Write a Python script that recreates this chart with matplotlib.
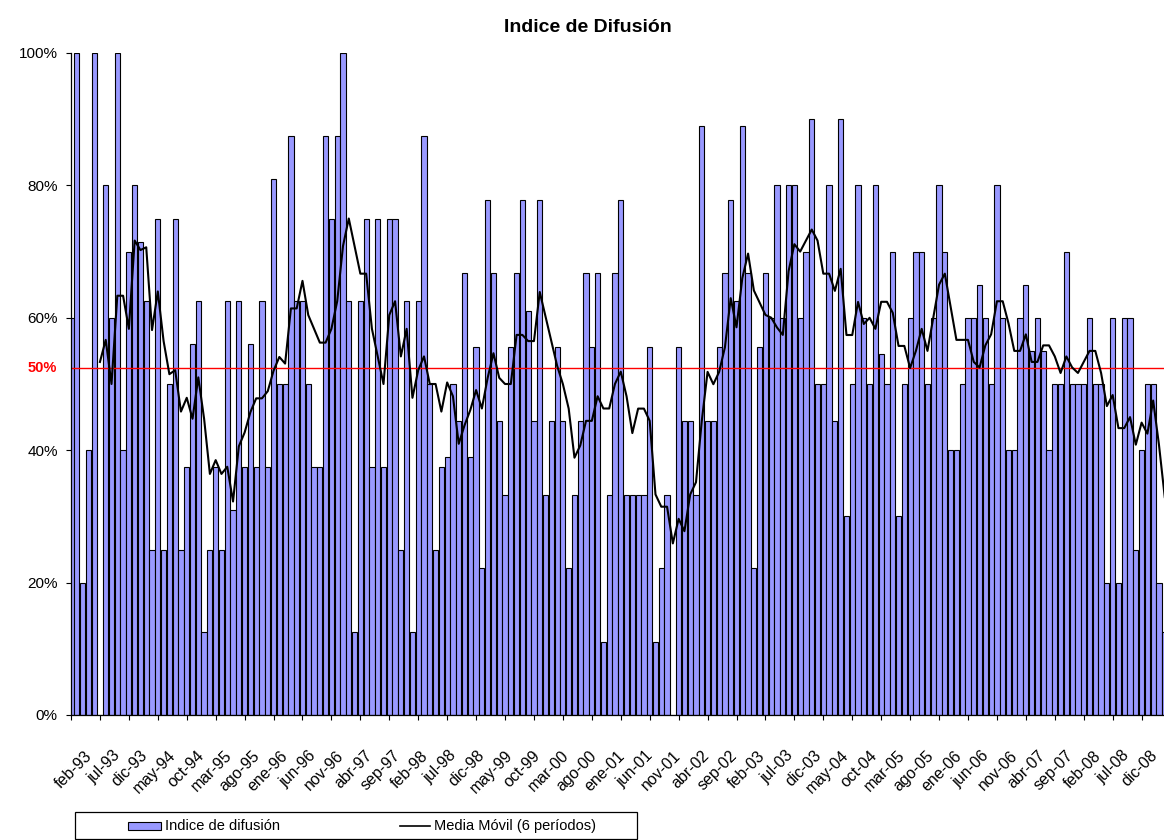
import matplotlib
matplotlib.use("Agg")
import matplotlib.pyplot as plt
from matplotlib.patches import Rectangle
from matplotlib.lines import Line2D
import numpy as np
import pandas as pd

plt.rcParams['font.family'] = ['Liberation Sans', 'DejaVu Sans']

# monthly diffusion index in %, one value per month from feb-93
indice = [
    60, 100, 20, 40, 100, 0, 80, 60, 100, 40,
    70, 80, 71.4, 62.5, 25, 75, 25, 50, 75, 25,
    37.5, 56, 62.5, 12.5, 25, 37.5, 25, 62.5, 31, 62.5,
    37.5, 56, 37.5, 62.5, 37.5, 81, 50, 50, 87.5, 62.5,
    62.5, 50, 37.5, 37.5, 87.5, 75, 87.5, 100, 62.5, 12.5,
    62.5, 75, 37.5, 75, 37.5, 75, 75, 25, 62.5, 12.5,
    62.5, 87.5, 50, 25, 37.5, 38.9, 50, 44.4, 66.7, 38.9,
    55.6, 22.2, 77.8, 66.7, 44.4, 33.3, 55.6, 66.7, 77.8, 61.1,
    44.4, 77.8, 33.3, 44.4, 55.6, 44.4, 22.2, 33.3, 44.4, 66.7,
    55.6, 66.7, 11.1, 33.3, 66.7, 77.8, 33.3, 33.3, 33.3, 33.3,
    55.6, 11.1, 22.2, 33.3, 0, 55.6, 44.4, 44.4, 33.3, 88.9,
    44.4, 44.4, 55.6, 66.7, 77.8, 62.5, 88.9, 66.7, 22.2, 55.6,
    66.7, 60, 80, 60, 80, 80, 60, 70, 90, 50,
    50, 80, 44.4, 90, 30, 50, 80, 60, 50, 80,
    54.5, 50, 70, 30, 50, 60, 70, 70, 50, 60,
    80, 70, 40, 40, 50, 60, 60, 65, 60, 50,
    80, 60, 40, 40, 60, 65, 55, 60, 55, 40,
    50, 50, 70, 50, 50, 50, 60, 50, 50, 20,
    60, 20, 60, 60, 25, 40, 50, 50, 20, 12.5,
]

# one label every 5 months
etiquetas = [
    'feb-93', 'jul-93', 'dic-93', 'may-94', 'oct-94', 'mar-95', 'ago-95', 'ene-96',
    'jun-96', 'nov-96', 'abr-97', 'sep-97', 'feb-98', 'jul-98', 'dic-98', 'may-99',
    'oct-99', 'mar-00', 'ago-00', 'ene-01', 'jun-01', 'nov-01', 'abr-02', 'sep-02',
    'feb-03', 'jul-03', 'dic-03', 'may-04', 'oct-04', 'mar-05', 'ago-05', 'ene-06',
    'jun-06', 'nov-06', 'abr-07', 'sep-07', 'feb-08', 'jul-08', 'dic-08',
]

linea_ref = 52.4   # where the red "50%" line sits on the picture

W, H = 1164, 840
fig = plt.figure(figsize=(W / 100, H / 100), dpi=100)

n_cat = 5 * (len(etiquetas) - 1)
px_per_cat = 5.787
ax_left, ax_top, ax_bottom = 71, 53, 715
ax = fig.add_axes([ax_left / W, 1 - ax_bottom / H,
                   n_cat * px_per_cat / W, (ax_bottom - ax_top) / H])

x = np.arange(len(indice))
ax.bar(x, indice, width=0.9, color='#9999ff', edgecolor='black',
       linewidth=0.8, zorder=1)

ax.axhline(linea_ref, color='red', linewidth=1, zorder=2)

media = pd.Series(indice).rolling(6).mean()
ax.plot(x, media, color='black', linewidth=1.5, zorder=3)

ax.set_xlim(0, n_cat)
ax.set_ylim(0, 100)

ax.set_yticks(range(0, 101, 20))
ax.set_yticklabels([f'{v}%' for v in range(0, 101, 20)])
ax.set_xticks(range(0, n_cat + 1, 5))
ax.set_xticklabels([])

ax.tick_params(axis='y', direction='out', length=3.6, width=0.8, pad=6, labelsize=11)
ax.tick_params(axis='x', direction='out', length=3.6, width=0.8)

for s in ['top', 'right']:
    ax.spines[s].set_visible(False)
for s in ['left', 'bottom']:
    ax.spines[s].set_linewidth(0.9)

# the month labels sit a little tighter than the ticks, so the last one stays in view
lab_x = np.linspace(84, 1150, len(etiquetas))
for lx, txt in zip(lab_x, etiquetas):
    fig.text(lx / W, 1 - 748 / H, txt, rotation=45, rotation_mode='anchor',
             ha='right', va='top', fontsize=11.5)

ax.text(-14 / (n_cat * px_per_cat), linea_ref, '50%', color='red', fontweight='bold',
        fontsize=10.5, ha='right', va='center', transform=ax.get_yaxis_transform())

fig.text(588 / W, 1 - 27 / H, 'Indice de Difusión', ha='center', va='center',
         fontsize=14, fontweight='bold')

# legend box at the bottom
fig.patches.append(Rectangle((75 / W, 1 - 839 / H), 562 / W, 27 / H,
                             transform=fig.transFigure, fill=False,
                             edgecolor='black', linewidth=0.9))
fig.patches.append(Rectangle((128 / W, 1 - 830 / H), 33 / W, 8 / H,
                             transform=fig.transFigure, facecolor='#9999ff',
                             edgecolor='black', linewidth=0.8))
fig.lines.append(Line2D([400 / W, 430 / W], [1 - 826 / H] * 2,
                        transform=fig.transFigure, color='black', linewidth=1.2))
fig.text(165 / W, 1 - 826 / H, 'Indice de difusión', va='center', fontsize=10.5)
fig.text(434 / W, 1 - 826 / H, 'Media Móvil (6 períodos)', va='center', fontsize=10.5)

fig.savefig('out.png', dpi=100)
